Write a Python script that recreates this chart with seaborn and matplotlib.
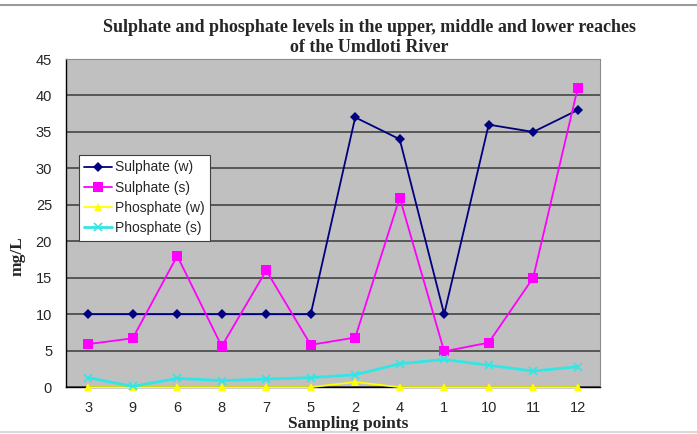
import pandas as pd
import numpy as np
import matplotlib
matplotlib.use("Agg")
import matplotlib.pyplot as plt
import seaborn as sns
from matplotlib.lines import Line2D

# data
points = ["3", "9", "6", "8", "7", "5", "2", "4", "1", "10", "11", "12"]
sulphate_w = [10, 10, 10, 10, 10, 10, 37, 34, 10, 36, 35, 38]
sulphate_s = [5.9, 6.7, 18, 5.6, 16, 5.8, 6.8, 26, 4.9, 6.1, 15, 41]
phosphate_w = [0, 0, 0, 0, 0, 0, 0.7, 0, 0, 0, 0, 0]
phosphate_s = [1.3, 0.1, 1.2, 0.9, 1.1, 1.3, 1.7, 3.2, 3.8, 3.0, 2.2, 2.8]

series = ["Sulphate (w)", "Sulphate (s)", "Phosphate (w)", "Phosphate (s)"]
values = [sulphate_w, sulphate_s, phosphate_w, phosphate_s]
colors = ["#000080", "#FF00FF", "#FFFF00", "#33E6E6"]
markers = ["D", "s", "^", "x"]
msizes = [5, 7, 6, 6]

sns.set_style("white")
plt.rcParams['font.family'] = ['Liberation Sans', 'DejaVu Sans']

fig = plt.figure(figsize=(6.97, 4.34), dpi=100)
ax = fig.add_axes([0.0947, 0.108, 0.766, 0.756])
ax.set_facecolor("#C0C0C0")

for name, vals, c, m, ms in zip(series, values, colors, markers, msizes):
    df = pd.DataFrame({"x": np.arange(len(points)), "y": vals})
    sns.lineplot(data=df, x="x", y="y", ax=ax, color=c, marker=m, markersize=ms,
                 markeredgecolor=c, markeredgewidth=1.2 if m == "x" else 0,
                 linewidth=2 if name == "Phosphate (s)" else 1.3, label=name,
                 sort=False, clip_on=False, zorder=3)

ax.set_ylim(0, 45)
ax.set_yticks(range(0, 46, 5))
ax.set_xlim(-0.5, 11.5)
ax.set_xticks(range(len(points)))
ax.set_xticklabels(points)
ax.set_xticks(np.arange(-0.5, 12, 1), minor=True)
ax.tick_params(axis="x", which="major", length=0, labelsize=10.5, pad=10)
ax.tick_params(axis="x", which="minor", length=5, width=1, direction="out", color="black")
ax.tick_params(axis="y", length=5, width=1, direction="out", color="black", labelsize=10.5, pad=5)
ax.grid(axis="y", color="#454545", linewidth=1.2)
ax.set_axisbelow(True)
for s in ["top", "right"]:
    ax.spines[s].set_color("#8C8C8C")
for s in ["left", "bottom"]:
    ax.spines[s].set_color("black")
    ax.spines[s].set_linewidth(1)

ax.set_xlabel("Sampling points", fontfamily="Liberation Serif", fontweight="bold",
              fontsize=12.5)
ax.xaxis.set_label_coords(0.528, -0.087)
ax.set_ylabel("mg/L", fontfamily="Liberation Serif", fontweight="bold", fontsize=12.5)
ax.yaxis.set_label_coords(-0.075, 0.40)

fig.text(0.53, 0.913, "Sulphate and phosphate levels in the upper, middle and lower reaches\nof the Umdloti River",
         ha="center", va="center", fontfamily="Liberation Serif", fontweight="bold",
         fontsize=13, linespacing=1.2)

leg = ax.legend(loc="upper left", bbox_to_anchor=(0.024, 0.708), frameon=True, fancybox=False,
                fontsize=10, borderpad=0.4, labelspacing=0.45, handlelength=2.0,
                handletextpad=0.2, borderaxespad=0)
leg.get_frame().set_edgecolor("#404040")
leg.get_frame().set_facecolor("white")
leg.get_frame().set_alpha(1)
leg.get_frame().set_linewidth(0.8)

# outer frame lines of the original chart
fig.add_artist(Line2D([0, 1], [0.988, 0.988], color="#9A9A9A", linewidth=1.5, transform=fig.transFigure))
fig.add_artist(Line2D([0, 1], [0.004, 0.004], color="#D8D8D8", linewidth=1.5, transform=fig.transFigure))

fig.savefig("out.png", dpi=100)
